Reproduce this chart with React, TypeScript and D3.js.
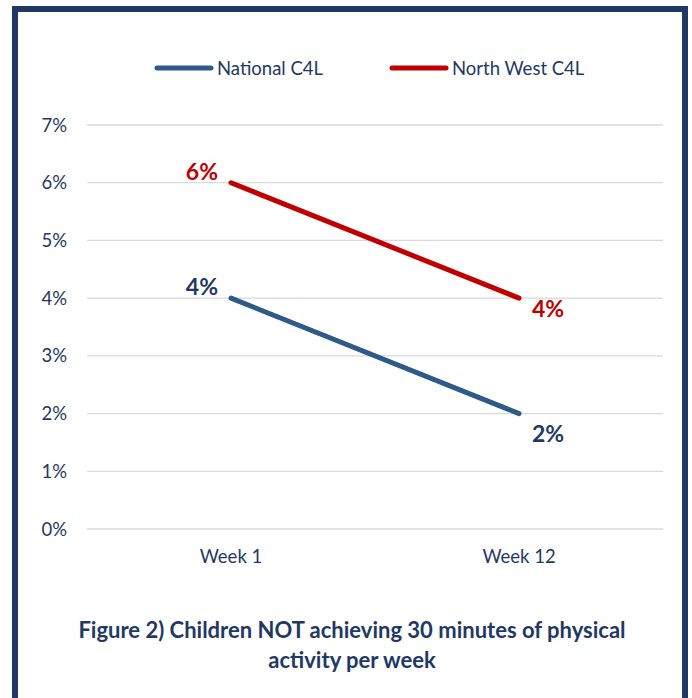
import React, { useEffect, useRef } from "react";
import * as d3 from "d3";

const categories = ["Week 1", "Week 12"];
const nationalValues = [4, 2];
const northWestValues = [6, 4];
const yTicks = [0, 1, 2, 3, 4, 5, 6, 7];
const seriesNames = ["National C4L", "North West C4L"];
const titleLines = [
  "Figure 2) Children NOT achieving 30 minutes of physical",
  "activity per week",
];

const W = 692;
const H = 698;
const NAVY = "#1f3864";
const BLUE = "#2e5a87";
const RED = "#c00000";
const FONT = "Lato, 'Open Sans', sans-serif";

export default function App() {
  const svgRef = useRef<SVGSVGElement>(null);

  useEffect(() => {
    const svg = d3.select(svgRef.current);
    svg.selectAll("*").remove();

    // frame
    svg.append("rect").attr("width", W).attr("height", H).attr("fill", "#fff");
    svg
      .append("path")
      .attr("d", `M15,${H + 10} L15,9 L685,9 L685,${H + 10}`)
      .attr("fill", "none")
      .attr("stroke", NAVY)
      .attr("stroke-width", 6);

    const x = d3.scalePoint<string>().domain(categories).range([87, 663]).padding(0.5);
    const y = d3.scaleLinear().domain([0, 7]).range([529, 125]);

    // gridlines
    svg
      .append("g")
      .selectAll("line")
      .data(yTicks)
      .enter()
      .append("line")
      .attr("x1", 87)
      .attr("x2", 663)
      .attr("y1", (d) => y(d))
      .attr("y2", (d) => y(d))
      .attr("stroke", "#d9d9d9")
      .attr("stroke-width", 1.3);

    // y labels
    svg
      .append("g")
      .selectAll("text")
      .data(yTicks)
      .enter()
      .append("text")
      .attr("x", 67)
      .attr("y", (d) => y(d) + 6.5)
      .attr("text-anchor", "end")
      .attr("fill", NAVY)
      .style("font-family", FONT)
      .style("font-size", "18.5px")
      .text((d) => `${d}%`);

    // x labels
    svg
      .append("g")
      .selectAll("text")
      .data(categories)
      .enter()
      .append("text")
      .attr("x", (d) => x(d)!)
      .attr("y", 563)
      .attr("text-anchor", "middle")
      .attr("fill", NAVY)
      .style("font-family", FONT)
      .style("font-size", "18.5px")
      .text((d) => d);

    const line = d3
      .line<number>()
      .x((_, i) => x(categories[i])!)
      .y((d) => y(d));

    const series = [
      { name: seriesNames[0], values: nationalValues, color: BLUE, label: NAVY, dy: [-3, 28] },
      { name: seriesNames[1], values: northWestValues, color: RED, label: RED, dy: [-3, 19] },
    ];

    series.forEach((s) => {
      svg
        .append("path")
        .datum(s.values)
        .attr("d", line)
        .attr("fill", "none")
        .attr("stroke", s.color)
        .attr("stroke-width", 5)
        .attr("stroke-linecap", "round");

      s.values.forEach((v, i) => {
        const px = x(categories[i])!;
        svg
          .append("text")
          .attr("x", i === 0 ? px - 13 : px + 13)
          .attr("y", y(v) + s.dy[i])
          .attr("text-anchor", i === 0 ? "end" : "start")
          .attr("fill", s.label)
          .style("font-family", FONT)
          .style("font-size", "23px")
          .style("font-weight", "bold")
          .text(`${v}%`);
      });
    });

    // legend
    const legendX = [157, 392];
    series.forEach((s, i) => {
      svg
        .append("line")
        .attr("x1", legendX[i])
        .attr("x2", legendX[i] + 54)
        .attr("y1", 68)
        .attr("y2", 68)
        .attr("stroke", s.color)
        .attr("stroke-width", 5)
        .attr("stroke-linecap", "round");
      svg
        .append("text")
        .attr("x", legendX[i] + 60)
        .attr("y", 75)
        .attr("fill", NAVY)
        .style("font-family", FONT)
        .style("font-size", "18.5px")
        .text(s.name);
    });

    // title
    titleLines.forEach((t, i) => {
      svg
        .append("text")
        .attr("x", 352)
        .attr("y", 638 + i * 30)
        .attr("text-anchor", "middle")
        .attr("fill", NAVY)
        .style("font-family", FONT)
        .style("font-size", "22px")
        .style("font-weight", "bold")
        .text(t);
    });
  }, []);

  return (
    <svg
      ref={svgRef}
      width={W}
      height={H}
      style={{ position: "absolute", left: 0, top: 0 }}
    ></svg>
  );
}
